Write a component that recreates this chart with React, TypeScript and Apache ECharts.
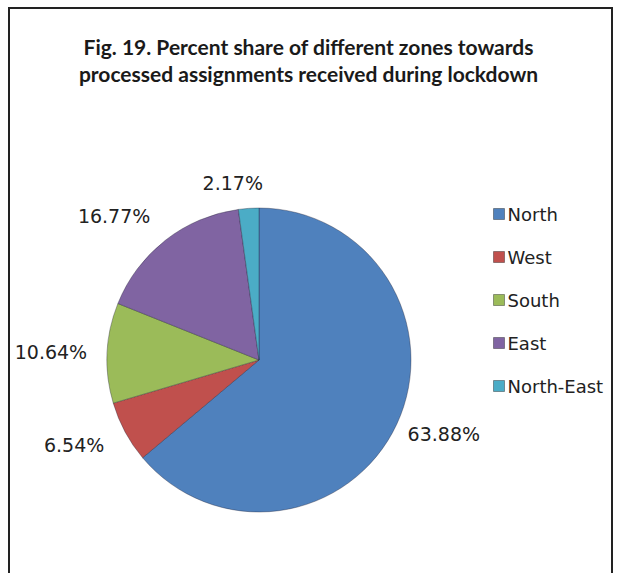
import React, { useEffect, useRef } from "react";
import * as echarts from "echarts";

const zones = ["North", "West", "South", "East", "North-East"];
const shares = [63.88, 6.54, 10.64, 16.77, 2.17];
const colors = ["#4F81BD", "#C0504D", "#9BBB59", "#8064A2", "#4BACC6"];
const titleLines = [
  "Fig. 19. Percent share of different zones towards",
  "processed assignments received during lockdown",
];
// label styling per slice (radial length of hidden leader, text gap)
const labelLens = [23, 27, 15, 31, 25];
const labelGaps = [-10, -3, 5, -4, -16];

export default function App() {
  const ref = useRef<HTMLDivElement>(null);
  useEffect(() => {
    document.body.style.margin = "0";
    const chart = echarts.init(ref.current!, undefined, { renderer: "svg" });
    chart.setOption({
      animation: false,
      backgroundColor: "#ffffff",
      title: {
        text: titleLines.join("\n"),
        left: "center",
        top: 28,
        textStyle: {
          fontFamily: "Lato",
          fontWeight: "bold",
          fontSize: 21,
          lineHeight: 27,
          color: "#1a1a1a",
        },
      },
      graphic: [
        {
          type: "rect",
          shape: { x: 9, y: 8, width: 603, height: 620 },
          style: { fill: "none", stroke: "#222", lineWidth: 2 },
          silent: true,
        },
      ],
      legend: {
        orient: "vertical",
        left: 488,
        top: 200,
        itemWidth: 11,
        itemHeight: 11,
        itemGap: 25,
        icon: "rect",
        data: zones,
        textStyle: { fontFamily: "DejaVu Sans", fontSize: 18, color: "#222", padding: [0, 0, 0, -2] },
        itemStyle: { borderColor: "rgba(0,0,0,0.35)", borderWidth: 1 },
      },
      series: [
        {
          type: "pie",
          center: [259, 360],
          radius: 152,
          startAngle: 90,
          clockwise: true,
          avoidLabelOverlap: false,
          data: zones.map((z, i) => ({
            name: z,
            value: shares[i],
            itemStyle: { color: colors[i] },
            label: { distanceToLabelLine: labelGaps[i] },
            labelLine: { length: labelLens[i], length2: 0 },
          })),
          itemStyle: { borderColor: "rgba(30,30,50,0.45)", borderWidth: 0.8 },
          label: {
            show: true,
            position: "outside",
            formatter: (p: any) => p.value.toFixed(2) + "%",
            fontFamily: "DejaVu Sans",
            fontSize: 19,
            color: "#222",
          },
          labelLine: { show: false },
        },
      ],
    });
    return () => chart.dispose();
  }, []);
  return <div ref={ref} style={{ width: 617, height: 573 }} />;
}
